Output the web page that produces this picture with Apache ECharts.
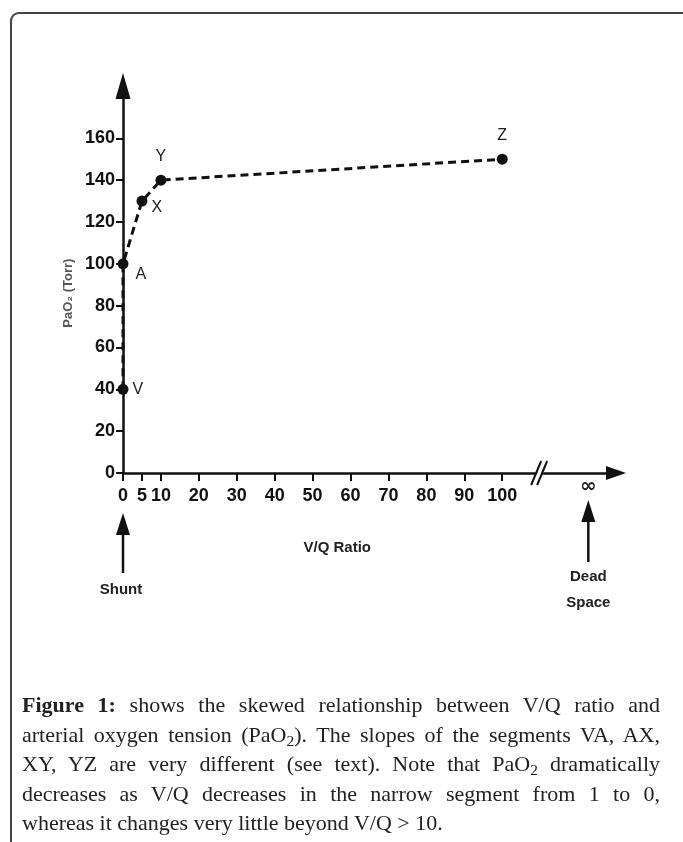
<!DOCTYPE html>
<html>
<head>
<meta charset="utf-8">
<script src="https://cdn.jsdelivr.net/npm/echarts@6/dist/echarts.min.js"></script>
<style>
html, body { margin: 0; padding: 0; background: #fff; overflow: hidden; }
#frame { position: absolute; left: 10px; top: 12px; width: 720px; height: 900px;
  border-top: 2px solid #444; border-left: 2px solid #444; border-top-left-radius: 9px; }
#charts { position: absolute; left: 0; top: 0; width: 683px; height: 842px; }
#caption { position: absolute; left: 22px; top: 690px; width: 638px;
  font-family: 'Liberation Serif', 'DejaVu Serif', serif; font-size: 22px; color: #222; }
#caption div { text-align: justify; text-align-last: justify; line-height: 29.5px; white-space: nowrap; }
#caption div.last { text-align-last: left; }
#caption sub { font-size: 0.7em; vertical-align: -0.25em; line-height: 0; }
</style>
</head>
<body>
<div id="frame"></div>
<div id="charts"></div>
<div id="caption">
  <div><b>Figure 1:</b> shows the skewed relationship between V/Q ratio and</div>
  <div>arterial oxygen tension (PaO<sub>2</sub>). The slopes of the segments VA, AX,</div>
  <div>XY, YZ are very different (see text). Note that PaO<sub>2</sub> dramatically</div>
  <div>decreases as V/Q decreases in the narrow segment from 1 to 0,</div>
  <div class="last">whereas it changes very little beyond V/Q &gt; 10.</div>
</div>
<script>
// points
var vqRatio = [0, 0, 5, 10, 100];
var pao2 = [40, 100, 130, 140, 150];
var pointNames = ['V', 'A', 'X', 'Y', 'Z'];
var xTicks = [0, 5, 10, 20, 30, 40, 50, 60, 70, 80, 90, 100];
var yTicks = [0, 20, 40, 60, 80, 100, 120, 140, 160];
var breakAt = 110;      // the // mark on the x axis
var infinityAt = 122.7; // where "∞" / dead space sits

var sans = "'Liberation Sans', Arial, sans-serif";

var labelPlace = {
    V: {position: 'right', distance: 4},
    A: {position: 'right', distance: 7, offset: [0, 11]},
    X: {position: 'right', distance: 4, offset: [0, 7]},
    Y: {position: 'top', distance: 10},
    Z: {position: 'top', distance: 10}
};

var myChart = echarts.init(document.getElementById('charts'));

var seriesData = vqRatio.map(function (x, i) {
    return {value: [x, pao2[i]], name: pointNames[i], label: labelPlace[pointNames[i]]};
});

var option = {
    animation: false,
    grid: {left: 123, top: 86, width: 493, height: 387},
    xAxis: {
        type: 'value', min: 0, max: 130,
        splitLine: {show: false},
        axisLine: {lineStyle: {color: '#111', width: 2.5}, symbol: ['none', 'triangle'], symbolSize: [14, 20]},
        axisTick: {customValues: xTicks, length: 8, lineStyle: {color: '#111', width: 2}},
        axisLabel: {customValues: xTicks, margin: 14, fontFamily: sans, fontWeight: 'bold', fontSize: 18, color: '#111'}
    },
    yAxis: {
        type: 'value', min: 0, max: 185,
        splitLine: {show: false},
        axisLine: {lineStyle: {color: '#111', width: 2.5}, symbol: ['none', 'triangle'], symbolSize: [15, 26]},
        axisTick: {customValues: yTicks, length: 7, lineStyle: {color: '#111', width: 2}},
        axisLabel: {customValues: yTicks, margin: 8, fontFamily: sans, fontWeight: 'bold', fontSize: 18, color: '#111'}
    },
    series: [{
        type: 'line',
        data: seriesData,
        symbol: 'circle',
        symbolSize: 11,
        itemStyle: {color: '#111'},
        lineStyle: {color: '#111', width: 3, type: [8, 5]},
        label: {show: true, formatter: '{b}', fontFamily: sans, fontSize: 16, color: '#222'},
        z: 5
    }]
};
myChart.setOption(option);

// annotations placed through the grid's own scale
var p0 = myChart.convertToPixel({gridIndex: 0}, [0, 0]);
var pBrk = myChart.convertToPixel({gridIndex: 0}, [breakAt, 0]);
var pInf = myChart.convertToPixel({gridIndex: 0}, [infinityAt, 0]);
var pName = myChart.convertToPixel({gridIndex: 0}, [56.5, 86]);

function upArrow(x, tipY, bottomY) {
    return [
        {type: 'line', shape: {x1: x, y1: tipY + 18, x2: x, y2: bottomY}, style: {stroke: '#111', lineWidth: 2.5}},
        {type: 'polygon', shape: {points: [[x, tipY], [x - 7, tipY + 22], [x + 7, tipY + 22]]}, style: {fill: '#111'}}
    ];
}

var annot = [
    // axis break //
    {type: 'polygon', shape: {points: [[pBrk[0] - 8, p0[1] + 11], [pBrk[0] - 2, p0[1] + 11], [pBrk[0] + 8, p0[1] - 11], [pBrk[0] + 2, p0[1] - 11]]}, style: {fill: '#fff'}, z: 10},
    {type: 'line', shape: {x1: pBrk[0] - 9, y1: p0[1] + 12, x2: pBrk[0] + 1, y2: p0[1] - 12}, style: {stroke: '#111', lineWidth: 2}, z: 11},
    {type: 'line', shape: {x1: pBrk[0] - 3, y1: p0[1] + 12, x2: pBrk[0] + 7, y2: p0[1] - 12}, style: {stroke: '#111', lineWidth: 2}, z: 11},
    {type: 'text', x: pInf[0], y: p0[1] + 14, style: {text: '∞', fontSize: 20, fontWeight: 'bold', fontFamily: 'DejaVu Sans', fill: '#222', align: 'center', verticalAlign: 'middle'}},
    {type: 'text', x: pName[0], y: p0[1] + 75, style: {text: 'V/Q Ratio', fontSize: 15, fontWeight: 'bold', fontFamily: sans, fill: '#222', align: 'center', verticalAlign: 'middle'}},
    {type: 'text', x: p0[0] - 2, y: p0[1] + 117, style: {text: 'Shunt', fontSize: 15, fontWeight: 'bold', fontFamily: sans, fill: '#222', align: 'center', verticalAlign: 'middle'}},
    {type: 'text', x: pInf[0], y: p0[1] + 117, style: {text: 'Dead\nSpace', fontSize: 15, lineHeight: 26, fontWeight: 'bold', fontFamily: sans, fill: '#222', align: 'center', verticalAlign: 'middle'}},
    {type: 'text', x: 68, y: pName[1], rotation: Math.PI / 2, style: {text: 'PaO₂ (Torr)', fontSize: 13, fontWeight: 'bold', fontFamily: sans, fill: '#555', align: 'center', verticalAlign: 'middle'}}
];
annot = annot.concat(upArrow(p0[0], p0[1] + 40, p0[1] + 100), upArrow(pInf[0], p0[1] + 27, p0[1] + 89));

myChart.setOption({graphic: annot});
</script>
</body>
</html>
